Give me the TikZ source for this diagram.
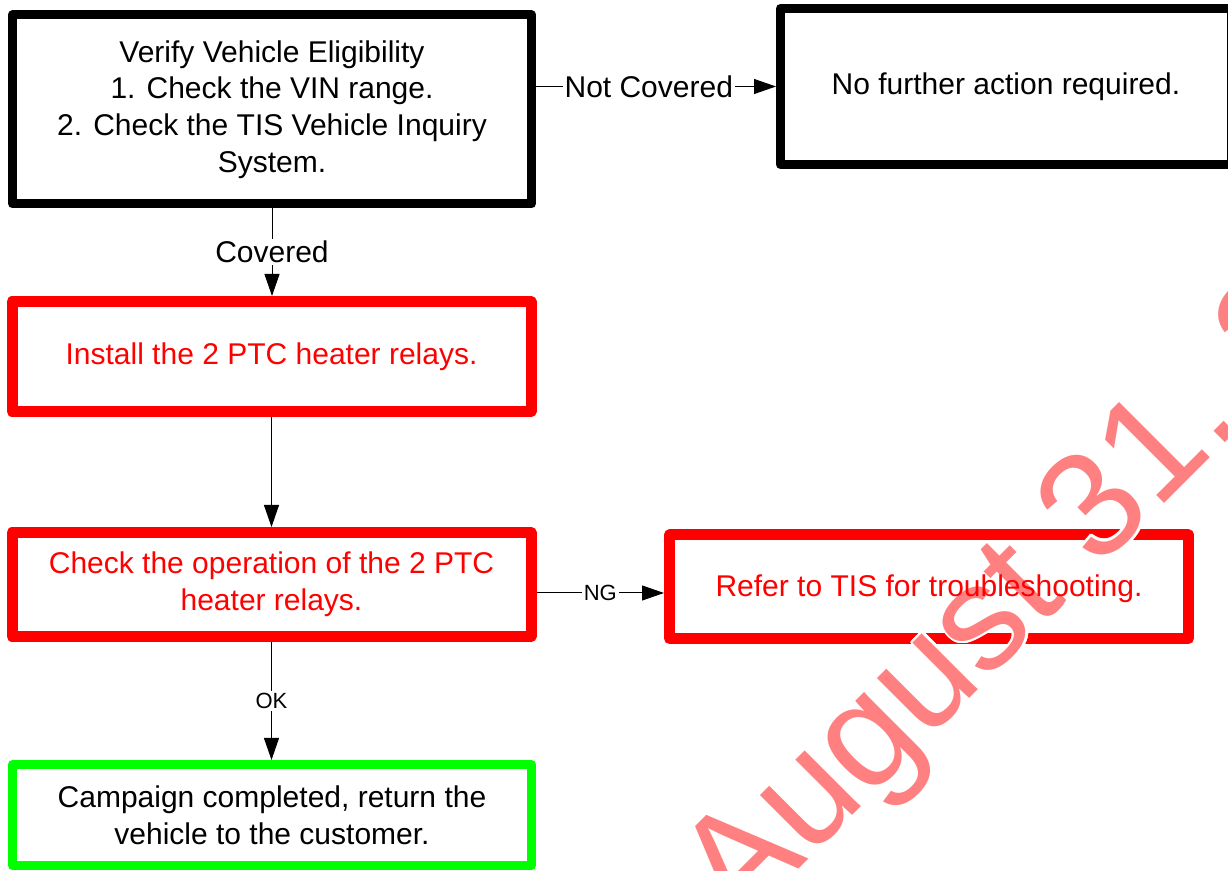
\documentclass[tikz,border=0pt]{standalone}
\usepackage{fontspec}
\setmainfont{Liberation Sans}
\usepackage[copies]{contour}
\contourlength{1.2pt}
\usetikzlibrary{arrows.meta}
\definecolor{boxred}{RGB}{255,0,0}
\definecolor{boxgreen}{RGB}{0,255,0}
\definecolor{wmark}{RGB}{255,128,128}
\tikzstyle{box}=[rectangle, draw, fill=white, line join=round, inner sep=0pt, outer sep=auto, align=center, font=\fontsize{15}{18.3}\selectfont, minimum width=259.5pt]
\tikzstyle{blackbox}=[box, draw=black, line width=4.5pt]
\tikzstyle{redbox}=[box, draw=boxred, line width=5.5pt, text=boxred]
\tikzstyle{greenbox}=[box, draw=boxgreen, line width=4.5pt]
\tikzstyle{boxtext}=[inner sep=0pt, text=boxred, font=\fontsize{15}{18.3}\selectfont]
\tikzstyle{edge}=[line width=0.5pt, -{Triangle[length=11pt,width=7.5pt]}]
\tikzstyle{edgeLabel}=[midway, fill=white, inner sep=1pt, font=\fontsize{15}{18}\selectfont]
\tikzstyle{smallLabel}=[edgeLabel, font=\fontsize{11}{13}\selectfont]

\begin{document}
\begin{tikzpicture}[x=0.5pt, y=-0.5pt]
	\useasboundingbox (0,0) rectangle (1228,871);
	\node[blackbox, minimum height=94.5pt] (verify) at (272,109.5) {Verify Vehicle Eligibility\\1. Check the VIN range.\\2. Check the TIS Vehicle Inquiry\\System.};
	\node[blackbox, minimum width=225.5pt, minimum height=78pt] (nofurther) at (1006,86.5) {No further action required.};
	\node[redbox, minimum height=55pt] (install) at (271.5,356.5) {Install the 2 PTC heater relays.};
	\node[redbox, minimum height=52pt] (checkop) at (271.5,584.5) {Check the operation of the 2 PTC\\heater relays.};
	\node[redbox, minimum height=51.75pt] (refer) at (929,586.75) {};
	\node[greenbox, minimum height=50.5pt] (done) at (272,815) {Campaign completed, return the\\vehicle to the customer.};
	\coordinate (ngy) at (600,593);
	\draw[edge] (verify.south) -- (verify.south |- install.north) node[edgeLabel] {Covered};
	\draw[edge] (verify.east |- nofurther.west) -- (nofurther.west) node[edgeLabel, pos=0.47] {Not Covered};
	\draw[edge] (install.south) -- (install.south |- checkop.north);
	\draw[edge] (checkop.east |- ngy) -- (refer.west |- ngy) node[smallLabel] {NG};
	\draw[edge] (checkop.south) -- (checkop.south |- done.north) node[smallLabel] {OK};
	% watermark over the frames, under the text
	\node[rotate=45, anchor=base west, inner sep=0pt, font=\fontsize{75}{75}\selectfont] (stamp) at (738,930) {\contour{white}{\textcolor{wmark}{August 31, 2}}};
	\node[boxtext] (refertext) at ([yshift=-1pt]refer.center) {Refer to TIS for troubleshooting.};
\end{tikzpicture}
\end{document}
